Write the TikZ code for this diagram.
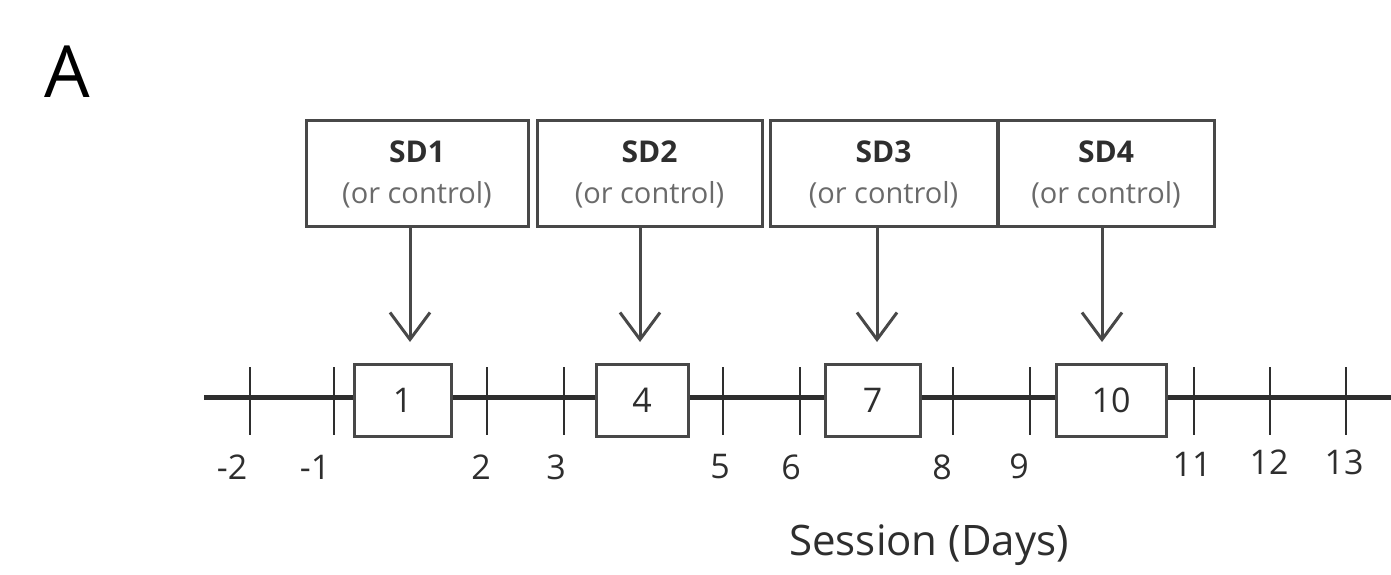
\documentclass[tikz,border=0pt]{standalone}
\usepackage{fontspec}
\setmainfont{Open Sans}
\usetikzlibrary{arrows.meta}
\definecolor{ink}{HTML}{2E2E2E}
\definecolor{boxline}{HTML}{484848}
\definecolor{softtext}{HTML}{6A6A6A}
\begin{document}
\begin{tikzpicture}[x=1pt,y=-1pt,
  sdbox/.style={draw=boxline,line width=3pt,fill=white,minimum width=#1,minimum height=105pt,inner sep=0pt},
  daybox/.style={draw=boxline,line width=3pt,fill=white,minimum width=#1,minimum height=72pt,inner sep=0pt,font=\fontsize{34}{36}\selectfont,text=ink},
  tickmark/.style={draw=ink,line width=2.6pt},
  axisline/.style={draw=ink,line width=5pt},
  lbl/.style={font=\fontsize{34}{36}\selectfont,text=ink,inner sep=0pt},
  arr/.style={draw=boxline,line width=3pt,-{Straight Barb[length=27pt,width=40pt,line width=3pt]}}]
\useasboundingbox (0,0) rectangle (1391,575);
\node[font=\fontsize{72}{74}\selectfont,text=black] (A) at (67,72) {A};
% axis
\coordinate (axL) at (204,397);
\coordinate (axR) at (1391,397);
\draw[axisline] (axL) -- (axR);
% ticks
\foreach \x/\n in {250/m2,334/m1,487/t2,564/t3,723/t5,800/t6,953/t8,1030/t9,1194/t11,1270/t12,1346/t13}{
  \coordinate (tk\n a) at (\x,367);
  \coordinate (tk\n b) at (\x,435);
  \draw[tickmark] (tk\n a) -- (tk\n b);
}
% day boxes
\node[daybox=97pt] (d1) at (402.5,400) {1};
\node[daybox=92pt] (d4) at (642,400) {4};
\node[daybox=95pt] (d7) at (872.5,400) {7};
\node[daybox=110pt] (d10) at (1111,400) {10};
% labels
\node[lbl] (lm2) at (232,467) {-2};
\node[lbl] (lm1) at (315,467) {-1};
\node[lbl] (l2) at (481,467) {2};
\node[lbl] (l3) at (556,467) {3};
\node[lbl] (l5) at (720,467) {5};
\node[lbl] (l6) at (791,467) {6};
\node[lbl] (l8) at (942,467) {8};
\node[lbl] (l9) at (1019,466) {9};
\node[lbl] (l11) at (1192,464) {11};
\node[lbl] (l12) at (1269,462) {12};
\node[lbl] (l13) at (1344,462) {13};
\node[font=\fontsize{42}{44}\selectfont,text=ink,inner sep=0pt] (sess) at (929,545) {Session (Days)};
% SD boxes
\node[sdbox=222pt] (sd1) at (417,173.5) {};
\node[sdbox=225pt] (sd2) at (649.5,173.5) {};
\node[sdbox=227pt] (sd3) at (883.5,173.5) {};
\node[sdbox=216pt] (sd4) at (1106,173.5) {};
\foreach \b/\t in {sd1/SD1,sd2/SD2,sd3/SD3,sd4/SD4}{
  \node[font=\fontsize{30}{32}\selectfont\bfseries,text=ink,inner sep=0pt] (\b t) at ([yshift=22pt]\b.center) {\t};
  \node[font=\fontsize{29}{31}\selectfont,text=softtext,inner sep=0pt] (\b c) at ([yshift=-21pt]\b.center) {(or control)};
}
% arrows
\coordinate (p1) at (410,342);
\coordinate (p2) at (640,342);
\coordinate (p3) at (877,342);
\coordinate (p4) at (1102,342);
\draw[arr] (sd1.south -| p1) -- (p1);
\draw[arr] (sd2.south -| p2) -- (p2);
\draw[arr] (sd3.south -| p3) -- (p3);
\draw[arr] (sd4.south -| p4) -- (p4);
\end{tikzpicture}
\end{document}
